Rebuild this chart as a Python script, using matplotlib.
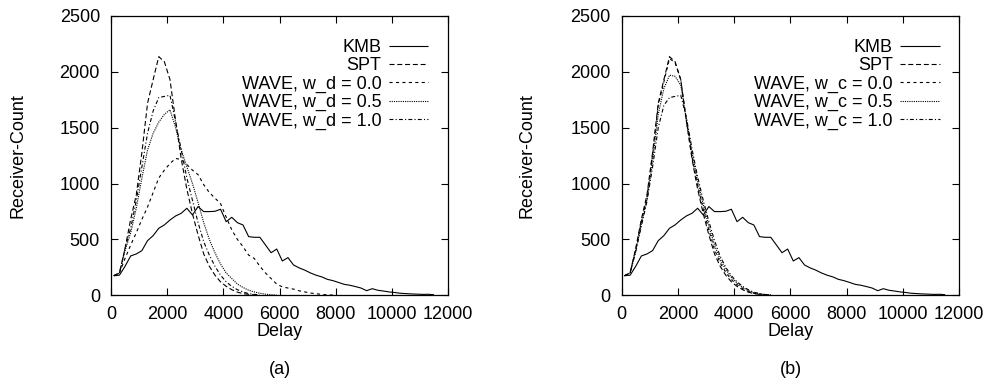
import matplotlib
matplotlib.use("Agg")
import matplotlib.pyplot as plt

plt.rcParams["font.family"] = ["Liberation Sans", "DejaVu Sans"]

# delay bins (bin centres)
delay = list(range(100, 11700, 200))

kmb = [175, 180, 260, 352, 370, 400, 489, 534, 600, 630, 674, 710, 734, 779, 719,
       794, 749, 749, 752, 770, 659, 698, 650, 629, 525, 519, 519, 450, 381, 414,
       307, 337, 271, 245, 225, 200, 180, 165, 143, 131, 115, 98, 90, 78, 65,
       41, 59, 45, 38, 30, 25, 18, 15, 12, 10, 8, 9, 5]
spt = [175, 200, 420, 680, 900, 1280, 1718, 1930, 2136, 2090, 1930, 1560, 1220,
       950, 730, 540, 370, 260, 180, 120, 80, 50, 28, 15, 8, 3, 1]

# panel (a): w_d
wd_00 = [175, 200, 330, 450, 560, 680, 790, 920, 1050, 1120, 1180, 1225, 1215,
         1170, 1120, 1080, 990, 920, 870, 820, 700, 585, 500, 435, 360, 330, 260,
         200, 150, 100, 75, 65, 55, 40, 30, 20, 14, 8, 4, 2]
wd_05 = [175, 200, 400, 560, 780, 1050, 1300, 1450, 1550, 1620, 1660, 1500, 1300,
         1150, 1000, 830, 650, 500, 380, 280, 200, 150, 100, 70, 45, 30, 18, 10, 5, 2]
wd_10 = [175, 200, 420, 600, 850, 1150, 1450, 1650, 1770, 1780, 1790, 1550, 1300,
         1050, 850, 650, 480, 360, 260, 180, 120, 80, 50, 30, 15, 8, 3]

# panel (b): w_c
wc_00 = [175, 200, 410, 660, 880, 1260, 1700, 1910, 2120, 2080, 1930, 1560, 1240,
         980, 770, 580, 410, 290, 205, 140, 95, 60, 35, 18, 10, 5, 2]
wc_05 = [175, 200, 400, 640, 860, 1200, 1620, 1850, 1970, 1960, 1880, 1580, 1280,
         1020, 810, 620, 450, 320, 230, 160, 110, 70, 42, 22, 12, 6, 2]
wc_10 = [175, 200, 390, 620, 840, 1150, 1500, 1700, 1770, 1780, 1790, 1590, 1310,
         1060, 850, 660, 490, 350, 250, 175, 120, 80, 50, 28, 15, 7, 3]

x_ticks = [0, 2000, 4000, 6000, 8000, 10000, 12000]
y_ticks = [0, 500, 1000, 1500, 2000, 2500]

styles = [
    (0, ()),                  # solid
    (0, (4.5, 2.5)),          # long dash
    (0, (2.8, 3.0)),          # short dash
    (0, (1.0, 1.0)),          # dotted
    (0, (3.5, 2.0, 1.0, 2.0)),  # dash-dot
]

FS = 13

fig = plt.figure(figsize=(9.86, 3.87), dpi=100)
ax_a = fig.add_axes([0.1126, 0.237, 0.3418, 0.7217])
ax_b = fig.add_axes([0.6305, 0.237, 0.3424, 0.7217])

panels = [
    (ax_a, [wd_00, wd_05, wd_10], "w_d", "(a)", -0.275),
    (ax_b, [wc_00, wc_05, wc_10], "w_c", "(b)", -0.279),
]

for ax, waves, wname, tag, ylab_x in panels:
    series = [kmb, spt] + waves
    labels = ["KMB", "SPT",
              "WAVE, %s = 0.0" % wname,
              "WAVE, %s = 0.5" % wname,
              "WAVE, %s = 1.0" % wname]
    for s, lab, ls in zip(series, labels, styles):
        ax.plot(delay[:len(s)], s, color="black", lw=0.8, linestyle=ls, label=lab)

    ax.set_xlim(0, 12000)
    ax.set_ylim(0, 2500)
    ax.set_xticks(x_ticks)
    ax.set_yticks(y_ticks)
    ax.tick_params(direction="in", length=5, width=0.8, top=True, right=True,
                   labelsize=FS, pad=8)
    for sp in ax.spines.values():
        sp.set_linewidth(0.9)

    ax.set_ylabel("Receiver-Count", fontsize=FS)
    ax.yaxis.set_label_coords(ylab_x, 0.5)
    ax.yaxis.label.set_va("center")
    ax.set_xlabel("Delay", fontsize=FS)
    ax.xaxis.set_label_coords(0.5, -0.128)
    ax.xaxis.label.set_va("center")
    ax.text(0.5, -0.267, tag, transform=ax.transAxes, ha="center", va="center",
            fontsize=FS)

    ax.legend(loc="upper right", bbox_to_anchor=(0.9415, 0.918), frameon=False,
              markerfirst=False, fontsize=FS, borderpad=0, borderaxespad=0,
              labelspacing=0.07, handlelength=2.2, handletextpad=0.4)

fig.savefig("out.png", dpi=100)
